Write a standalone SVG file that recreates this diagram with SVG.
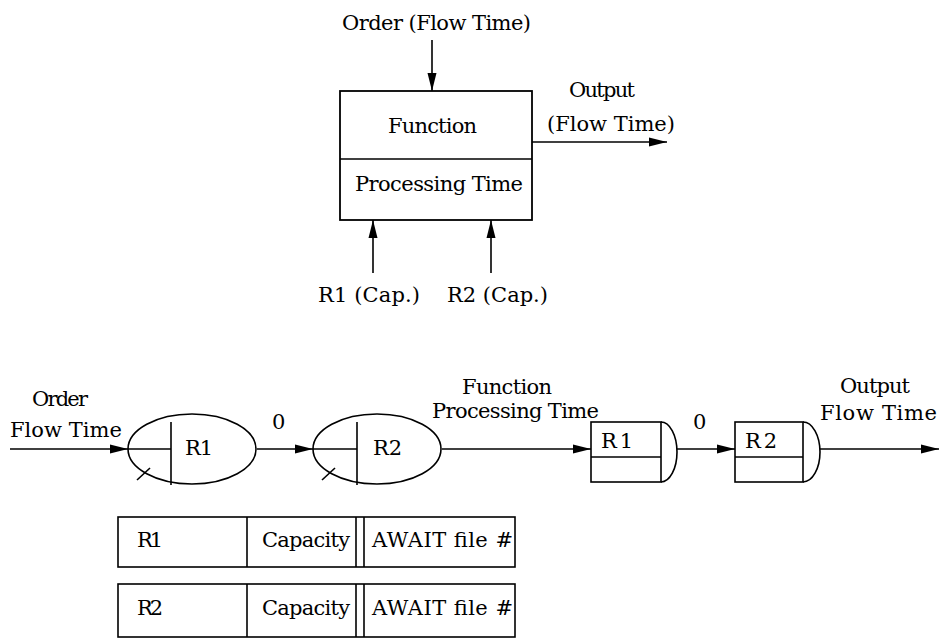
<svg xmlns="http://www.w3.org/2000/svg" width="943" height="639" viewBox="0 0 943 639">
<style>
text{font-family:"DejaVu Serif",serif;font-size:21px;fill:#000}
.ln{stroke:#000;stroke-width:1.6;fill:none}
.bx{stroke:#000;stroke-width:1.8;fill:#fff}
</style>
<defs>
<marker id="ah" markerUnits="userSpaceOnUse" markerWidth="18" markerHeight="10" refX="18" refY="5" orient="auto">
<path d="M0,0.5 L18,5 L0,9.5 z" fill="#000"/>
</marker>
</defs>
<rect width="943" height="639" fill="#fff"/>

<g id="connectors">
<line class="ln" x1="432" y1="40" x2="432" y2="91" marker-end="url(#ah)"/>
<line class="ln" x1="532" y1="142" x2="667" y2="142" marker-end="url(#ah)"/>
<line class="ln" x1="373" y1="273" x2="373" y2="220" marker-end="url(#ah)"/>
<line class="ln" x1="491" y1="273" x2="491" y2="220" marker-end="url(#ah)"/>
<line class="ln" x1="10" y1="449" x2="128" y2="449" marker-end="url(#ah)"/>
<line class="ln" x1="257" y1="449" x2="313" y2="449" marker-end="url(#ah)"/>
<line class="ln" x1="442" y1="449" x2="591" y2="449" marker-end="url(#ah)"/>
<line class="ln" x1="677" y1="449" x2="735" y2="449" marker-end="url(#ah)"/>
<line class="ln" x1="820" y1="449" x2="939" y2="449" marker-end="url(#ah)"/>
</g>

<g id="function-box">
<rect class="bx" x="340" y="91" width="192" height="129"/>
<line class="ln" x1="340" y1="159" x2="532" y2="159"/>
<text x="388" y="133" textLength="89">Function</text>
<text x="355" y="191" textLength="168">Processing Time</text>
</g>

<g id="top-labels">
<text x="342" y="30" textLength="189">Order (Flow Time)</text>
<text x="569" y="97" textLength="66">Output</text>
<text x="547" y="131" textLength="128">(Flow Time)</text>
<text x="318" y="302" textLength="102">R1 (Cap.)</text>
<text x="447" y="302" textLength="101">R2 (Cap.)</text>
</g>

<g id="bottom-labels">
<text x="32" y="406" textLength="56">Order</text>
<text x="10" y="437" textLength="112">Flow Time</text>
<text x="272" y="429">0</text>
<text x="462" y="394" textLength="90">Function</text>
<text x="432" y="418" textLength="167">Processing Time</text>
<text x="693" y="429">0</text>
<text x="840" y="393" textLength="70">Output</text>
<text x="820" y="420" textLength="117">Flow Time</text>
</g>

<g id="ellipse-r1">
<ellipse class="ln" cx="192" cy="449" rx="64" ry="35"/>
<line class="ln" x1="128" y1="449" x2="171" y2="449"/>
<line class="ln" x1="171" y1="422" x2="171" y2="485"/>
<line class="ln" x1="137" y1="480" x2="150" y2="468"/>
<text x="185" y="455" textLength="28">R1</text>
</g>

<g id="ellipse-r2">
<ellipse class="ln" cx="377" cy="449" rx="64" ry="35"/>
<line class="ln" x1="313" y1="449" x2="357" y2="449"/>
<line class="ln" x1="357" y1="422" x2="357" y2="485"/>
<line class="ln" x1="322" y1="480" x2="335" y2="468"/>
<text x="373" y="455" textLength="29">R2</text>
</g>

<g id="box-r1">
<rect class="ln" x="591" y="422" width="70" height="60"/>
<line class="ln" x1="591" y1="457" x2="661" y2="457"/>
<path class="ln" d="M661,422 A16,30 0 0 1 661,482"/>
<text x="601" y="448" textLength="32">R1</text>
</g>

<g id="box-r2">
<rect class="ln" x="735" y="422" width="68" height="60"/>
<line class="ln" x1="735" y1="457" x2="803" y2="457"/>
<path class="ln" d="M803,422 A17,30 0 0 1 803,482"/>
<text x="745" y="448" textLength="32">R2</text>
</g>

<g id="table-r1">
<rect class="ln" x="118" y="517" width="397" height="50"/>
<line class="ln" x1="247" y1="517" x2="247" y2="567"/>
<line class="ln" x1="356" y1="517" x2="356" y2="567"/>
<line class="ln" x1="364" y1="517" x2="364" y2="567"/>
<text x="137" y="547" textLength="26">R1</text>
<text x="262" y="547" textLength="88">Capacity</text>
<text x="372" y="547" textLength="141">AWAIT file #</text>
</g>

<g id="table-r2">
<rect class="ln" x="118" y="584" width="397" height="53"/>
<line class="ln" x1="247" y1="584" x2="247" y2="637"/>
<line class="ln" x1="356" y1="584" x2="356" y2="637"/>
<line class="ln" x1="364" y1="584" x2="364" y2="637"/>
<text x="137" y="615" textLength="26">R2</text>
<text x="262" y="615" textLength="88">Capacity</text>
<text x="372" y="615" textLength="141">AWAIT file #</text>
</g>
</svg>
